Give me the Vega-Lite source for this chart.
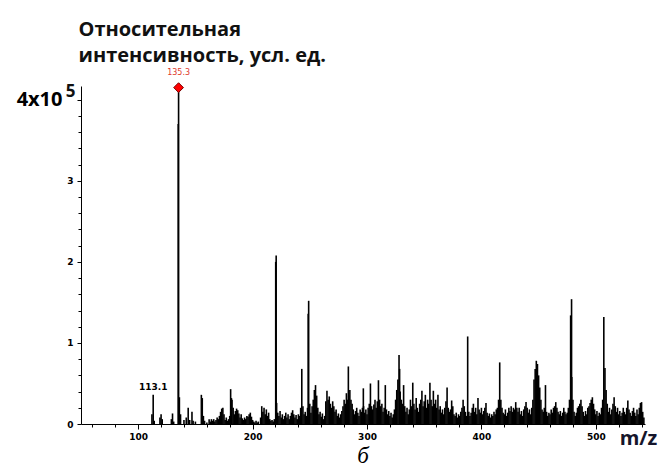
{
  "$schema": "https://vega.github.io/schema/vega-lite/v6.json",
  "width": 564,
  "height": 338,
  "autosize": {"type": "none"},
  "padding": {"left": 81, "top": 86, "right": 15, "bottom": 47},
  "background": "white",
  "config": {
    "view": {"stroke": null},
    "axis": {"grid": false, "domainColor": "#000", "tickColor": "#000", "labelColor": "#000", "labelFont": "DejaVu Sans", "labelFontWeight": "bold", "labelFontSize": 9, "labelOverlap": false}
  },
  "title": {"text": "б", "orient": "bottom", "anchor": "middle", "font": "Liberation Serif", "fontStyle": "italic", "fontWeight": "normal", "fontSize": 23, "color": "#000", "offset": -3},
  "resolve": {"axis": {"x": "independent", "y": "independent"}},
  "datasets": {
    "spec": [
      {"m":112,"i":0.12},{"m":113.1,"i":0.36},{"m":114,"i":0.04},{"m":119,"i":0.08},{"m":120,"i":0.12},{"m":121,"i":0.06},
      {"m":129,"i":0.06},{"m":130,"i":0.13},{"m":131,"i":0.03},{"m":135,"i":3.7},{"m":135.3,"i":4.15},{"m":136,"i":0.33},{"m":137,"i":0.12},
      {"m":140,"i":0.05},{"m":142,"i":0.08},{"m":143.7,"i":0.2},{"m":145,"i":0.05},{"m":147,"i":0.15},{"m":148,"i":0.04},{"m":150,"i":0.03},
      {"m":155.2,"i":0.36},{"m":156,"i":0.32},{"m":157,"i":0.1},{"m":158,"i":0.04},{"m":160,"i":0.02},
      {"m":162,"i":0.06},{"m":163,"i":0.03},{"m":164,"i":0.06},{"m":165,"i":0.04},{"m":166,"i":0.06},{"m":167,"i":0.03},{"m":168,"i":0.05},{"m":169,"i":0.08},{"m":170,"i":0.06},
      {"m":171,"i":0.1},{"m":172,"i":0.15},{"m":173,"i":0.19},{"m":174,"i":0.2},{"m":175,"i":0.12},{"m":176,"i":0.05},{"m":177,"i":0.08},{"m":178,"i":0.04},{"m":179,"i":0.06},{"m":180,"i":0.1},
      {"m":180.8,"i":0.43},{"m":181.5,"i":0.32},{"m":182,"i":0.3},{"m":183,"i":0.2},{"m":184,"i":0.12},{"m":185,"i":0.16},{"m":186,"i":0.19},{"m":187,"i":0.17},{"m":188,"i":0.13},{"m":189,"i":0.08},
      {"m":190,"i":0.12},{"m":191,"i":0.07},{"m":192,"i":0.05},{"m":193,"i":0.08},{"m":194,"i":0.06},{"m":195,"i":0.1},{"m":196,"i":0.09},{"m":197,"i":0.12},{"m":198,"i":0.14},{"m":199,"i":0.09},
      {"m":200,"i":0.05},{"m":201,"i":0.03},{"m":202,"i":0.02},{"m":203,"i":0.04},{"m":204,"i":0.02},{"m":205,"i":0.03},{"m":207,"i":0.08},{"m":208,"i":0.22},{"m":209,"i":0.15},
      {"m":210,"i":0.2},{"m":211,"i":0.12},{"m":212,"i":0.18},{"m":213,"i":0.1},{"m":214,"i":0.14},{"m":215,"i":0.06},{"m":216,"i":0.04},{"m":217,"i":0.05},{"m":218,"i":0.03},{"m":219,"i":0.06},
      {"m":220.2,"i":2.0},{"m":220.6,"i":2.08},{"m":221,"i":0.26},{"m":222,"i":0.14},{"m":223,"i":0.1},{"m":224,"i":0.16},{"m":225,"i":0.08},{"m":226,"i":0.12},{"m":227,"i":0.06},{"m":228,"i":0.1},{"m":229,"i":0.14},
      {"m":230,"i":0.08},{"m":231,"i":0.12},{"m":232,"i":0.06},{"m":233,"i":0.1},{"m":234,"i":0.14},{"m":235,"i":0.17},{"m":236,"i":0.12},{"m":237,"i":0.08},{"m":238,"i":0.11},{"m":239,"i":0.06},
      {"m":240,"i":0.12},{"m":241,"i":0.1},{"m":242,"i":0.2},{"m":243,"i":0.68},{"m":244,"i":0.22},{"m":245,"i":0.12},{"m":246,"i":0.15},{"m":247,"i":0.1},{"m":248,"i":0.2},{"m":248.6,"i":1.36},{"m":249,"i":1.52},
      {"m":250,"i":0.25},{"m":251,"i":0.14},{"m":252,"i":0.22},{"m":253,"i":0.3},{"m":254,"i":0.42},{"m":255,"i":0.48},{"m":256,"i":0.35},{"m":257,"i":0.2},{"m":258,"i":0.12},{"m":259,"i":0.15},
      {"m":260,"i":0.09},{"m":261,"i":0.13},{"m":262,"i":0.06},{"m":263,"i":0.1},{"m":264,"i":0.28},{"m":265,"i":0.41},{"m":266,"i":0.3},{"m":267,"i":0.34},{"m":268,"i":0.25},{"m":269,"i":0.2},
      {"m":270,"i":0.28},{"m":271,"i":0.22},{"m":272,"i":0.15},{"m":273,"i":0.18},{"m":274,"i":0.1},{"m":275,"i":0.13},{"m":276,"i":0.08},{"m":277,"i":0.12},{"m":278,"i":0.16},{"m":279,"i":0.22},
      {"m":280,"i":0.3},{"m":281,"i":0.25},{"m":282,"i":0.38},{"m":283,"i":0.3},{"m":283.7,"i":0.71},{"m":284,"i":0.35},{"m":285,"i":0.42},{"m":286,"i":0.3},{"m":287,"i":0.25},{"m":288,"i":0.18},{"m":289,"i":0.12},
      {"m":290,"i":0.16},{"m":291,"i":0.2},{"m":292,"i":0.14},{"m":293,"i":0.1},{"m":294,"i":0.18},{"m":295,"i":0.15},{"m":296,"i":0.2},{"m":296.8,"i":0.44},{"m":297,"i":0.22},{"m":298,"i":0.14},{"m":299,"i":0.18},
      {"m":300,"i":0.12},{"m":301,"i":0.2},{"m":302,"i":0.25},{"m":303,"i":0.5},{"m":304,"i":0.22},{"m":305,"i":0.18},{"m":306,"i":0.24},{"m":307,"i":0.3},{"m":308,"i":0.2},{"m":309,"i":0.28},
      {"m":310,"i":0.54},{"m":311,"i":0.3},{"m":312,"i":0.22},{"m":313,"i":0.25},{"m":314,"i":0.15},{"m":315,"i":0.2},{"m":316,"i":0.48},{"m":317,"i":0.18},{"m":318,"i":0.12},{"m":319,"i":0.16},
      {"m":320,"i":0.1},{"m":321,"i":0.14},{"m":322,"i":0.08},{"m":323,"i":0.12},{"m":324,"i":0.18},{"m":325,"i":0.3},{"m":326,"i":0.42},{"m":327,"i":0.55},{"m":328,"i":0.85},{"m":328.5,"i":0.68},{"m":329,"i":0.4},
      {"m":330,"i":0.3},{"m":331,"i":0.25},{"m":332,"i":0.48},{"m":333,"i":0.22},{"m":334,"i":0.15},{"m":335,"i":0.2},{"m":336,"i":0.12},{"m":337,"i":0.18},{"m":338,"i":0.3},{"m":339,"i":0.22},
      {"m":340,"i":0.51},{"m":341,"i":0.25},{"m":342,"i":0.18},{"m":343,"i":0.32},{"m":344,"i":0.2},{"m":345,"i":0.15},{"m":346,"i":0.25},{"m":347,"i":0.3},{"m":348,"i":0.41},{"m":349,"i":0.22},
      {"m":350,"i":0.28},{"m":351,"i":0.36},{"m":352,"i":0.2},{"m":353,"i":0.3},{"m":354,"i":0.25},{"m":355,"i":0.51},{"m":356,"i":0.3},{"m":357,"i":0.22},{"m":358,"i":0.41},{"m":359,"i":0.25},
      {"m":360,"i":0.3},{"m":361,"i":0.2},{"m":362,"i":0.36},{"m":363,"i":0.18},{"m":364,"i":0.22},{"m":365,"i":0.14},{"m":366,"i":0.18},{"m":367,"i":0.12},{"m":368,"i":0.2},{"m":369,"i":0.28},
      {"m":370,"i":0.45},{"m":371,"i":0.2},{"m":372,"i":0.15},{"m":373,"i":0.18},{"m":374,"i":0.29},{"m":375,"i":0.22},{"m":376,"i":0.12},{"m":377,"i":0.1},{"m":378,"i":0.14},{"m":379,"i":0.08},
      {"m":380,"i":0.12},{"m":381,"i":0.1},{"m":382,"i":0.15},{"m":383,"i":0.2},{"m":384,"i":0.3},{"m":385,"i":0.22},{"m":386,"i":0.15},{"m":387,"i":0.1},{"m":388,"i":1.08},{"m":389,"i":0.15},
      {"m":390,"i":0.1},{"m":391,"i":0.14},{"m":392,"i":0.2},{"m":393,"i":0.25},{"m":394,"i":0.15},{"m":395,"i":0.2},{"m":396,"i":0.12},{"m":397,"i":0.32},{"m":398,"i":0.18},{"m":399,"i":0.14},
      {"m":400,"i":0.2},{"m":401,"i":0.12},{"m":402,"i":0.16},{"m":403,"i":0.2},{"m":404,"i":0.26},{"m":405,"i":0.14},{"m":406,"i":0.1},{"m":407,"i":0.13},{"m":408,"i":0.08},{"m":409,"i":0.12},
      {"m":410,"i":0.1},{"m":411,"i":0.15},{"m":412,"i":0.12},{"m":413,"i":0.18},{"m":414,"i":0.2},{"m":415,"i":0.3},{"m":416,"i":0.76},{"m":417,"i":0.3},{"m":418,"i":0.2},{"m":419,"i":0.14},
      {"m":420,"i":0.12},{"m":421,"i":0.18},{"m":422,"i":0.1},{"m":423,"i":0.14},{"m":424,"i":0.2},{"m":425,"i":0.16},{"m":426,"i":0.22},{"m":427,"i":0.15},{"m":428,"i":0.2},{"m":429,"i":0.18},
      {"m":430,"i":0.27},{"m":431,"i":0.2},{"m":432,"i":0.15},{"m":433,"i":0.2},{"m":434,"i":0.12},{"m":435,"i":0.16},{"m":436,"i":0.1},{"m":437,"i":0.18},{"m":438,"i":0.22},{"m":439,"i":0.27},
      {"m":440,"i":0.2},{"m":441,"i":0.14},{"m":442,"i":0.18},{"m":443,"i":0.12},{"m":444,"i":0.2},{"m":445,"i":0.3},{"m":446,"i":0.55},{"m":447,"i":0.68},{"m":448,"i":0.78},{"m":449,"i":0.74},
      {"m":450,"i":0.6},{"m":451,"i":0.45},{"m":452,"i":0.3},{"m":453,"i":0.18},{"m":454,"i":0.15},{"m":455,"i":0.2},{"m":456,"i":0.48},{"m":457,"i":0.15},{"m":458,"i":0.1},{"m":459,"i":0.14},
      {"m":460,"i":0.12},{"m":461,"i":0.18},{"m":462,"i":0.14},{"m":463,"i":0.2},{"m":464,"i":0.22},{"m":465,"i":0.27},{"m":466,"i":0.2},{"m":467,"i":0.15},{"m":468,"i":0.12},{"m":469,"i":0.16},
      {"m":470,"i":0.1},{"m":471,"i":0.14},{"m":472,"i":0.2},{"m":473,"i":0.15},{"m":474,"i":0.12},{"m":475,"i":0.14},{"m":476,"i":0.2},{"m":477,"i":0.3},{"m":478,"i":1.34},{"m":478.8,"i":1.54},{"m":479,"i":0.58},
      {"m":480,"i":0.3},{"m":481,"i":0.15},{"m":482,"i":0.1},{"m":483,"i":0.14},{"m":484,"i":0.2},{"m":485,"i":0.22},{"m":486,"i":0.25},{"m":487,"i":0.3},{"m":488,"i":0.22},{"m":489,"i":0.15},
      {"m":490,"i":0.1},{"m":491,"i":0.16},{"m":492,"i":0.12},{"m":493,"i":0.2},{"m":494,"i":0.22},{"m":495,"i":0.26},{"m":496,"i":0.3},{"m":497,"i":0.33},{"m":498,"i":0.25},{"m":499,"i":0.18},
      {"m":500,"i":0.12},{"m":501,"i":0.16},{"m":502,"i":0.1},{"m":503,"i":0.14},{"m":504,"i":0.12},{"m":505,"i":0.2},{"m":506,"i":0.3},{"m":507,"i":1.32},{"m":508,"i":0.69},{"m":509,"i":0.42},
      {"m":510,"i":0.25},{"m":511,"i":0.15},{"m":512,"i":0.2},{"m":513,"i":0.12},{"m":514,"i":0.18},{"m":515,"i":0.25},{"m":516,"i":0.33},{"m":517,"i":0.22},{"m":518,"i":0.15},{"m":519,"i":0.2},
      {"m":520,"i":0.12},{"m":521,"i":0.16},{"m":522,"i":0.1},{"m":523,"i":0.14},{"m":524,"i":0.2},{"m":525,"i":0.15},{"m":526,"i":0.12},{"m":527,"i":0.2},{"m":528,"i":0.29},{"m":529,"i":0.18},
      {"m":530,"i":0.14},{"m":531,"i":0.1},{"m":532,"i":0.16},{"m":533,"i":0.2},{"m":534,"i":0.14},{"m":535,"i":0.1},{"m":536,"i":0.18},{"m":537,"i":0.12},{"m":538,"i":0.2},{"m":539,"i":0.26},
      {"m":540,"i":0.27},{"m":541,"i":0.15},{"m":542,"i":0.08}
    ],
    "peaks": [
      {"m":135.3,"i":4.15,"t":"135.3","kind":"base"},
      {"m":113.1,"i":0.36,"t":"113.1","kind":"minor"}
    ],
    "exp": [{"m":50,"i":4,"t":"5"}]
  },
  "layer": [
    {
      "data": {"name": "spec"},
      "mark": {"type": "rule", "strokeWidth": 1.6, "color": "#000"},
      "encoding": {
        "x": {
          "field": "m", "type": "quantitative",
          "scale": {"domain": [50, 543], "nice": false, "zero": false},
          "axis": {
            "orient": "bottom",
            "values": [100,200,300,400,500],
            "format": "d",
            "tickSize": 5,
            "labelPadding": 3,
            "labelFlush": false,
            "title": "m/z",
            "titleFont": "Open Sans", "titleFontSize": 20, "titleFontWeight": "bold", "titleColor": "#15152b",
            "titleAlign": "center", "titleBaseline": "alphabetic",
            "titleX": 557, "titleY": 20
          }
        },
        "y": {
          "field": "i", "type": "quantitative",
          "scale": {"domain": [0, 4.17], "nice": false},
          "axis": {
            "orient": "left",
            "values": [0,1,2,3,4],
            "format": "d",
            "labelExpr": "datum.value == 4 ? '4x10' : datum.label",
            "labelFont": {"condition": {"test": "datum.value == 4", "value": "Open Sans"}, "value": "DejaVu Sans"},
            "labelFontSize": {"condition": {"test": "datum.value == 4", "value": 20}, "value": 9},
            "labelPadding": {"condition": {"test": "datum.value == 4", "value": 15}, "value": 4},
            "tickSize": 4,
            "labelFlush": false,
            "title": ["Относительная", "интенсивность, усл. ед."],
            "titleFont": "Open Sans", "titleFontSize": 20, "titleFontWeight": "bold", "titleColor": "#111",
            "titleAngle": 0, "titleAlign": "left", "titleBaseline": "alphabetic",
            "titleLineHeight": 26, "titleX": -3, "titleY": -51
          }
        },
        "y2": {"datum": 0}
      }
    },
    {
      "data": {"name": "exp"},
      "mark": {"type": "point", "opacity": 0},
      "encoding": {
        "x": {"field": "m", "type": "quantitative", "axis": {"orient": "bottom", "values": [60,80,120,140,160,180,220,240,260,280,320,340,360,380,420,440,460,480,520,540], "labels": false, "domain": false, "tickSize": 3, "title": null}},
        "y": {"field": "i", "type": "quantitative", "axis": {"orient": "left", "values": [0.2,0.4,0.6,0.8,1.2,1.4,1.6,1.8,2.2,2.4,2.6,2.8,3.2,3.4,3.6,3.8], "labels": false, "domain": false, "tickSize": 3, "title": null}}
      }
    },
    {
      "data": {"name": "peaks"},
      "transform": [{"filter": "datum.kind == 'base'"}],
      "mark": {"type": "point", "shape": "diamond", "size": 95, "filled": true, "fill": "#ff0000", "stroke": "#7a0000", "strokeWidth": 1, "opacity": 1},
      "encoding": {"x": {"field": "m", "type": "quantitative", "axis": null}, "y": {"field": "i", "type": "quantitative", "axis": null}}
    },
    {
      "data": {"name": "peaks"},
      "transform": [{"filter": "datum.kind == 'base'"}],
      "mark": {"type": "text", "font": "DejaVu Sans", "fontSize": 8, "color": "#e0392b", "dy": -15, "baseline": "middle", "align": "center"},
      "encoding": {"x": {"field": "m", "type": "quantitative", "axis": null}, "y": {"field": "i", "type": "quantitative", "axis": null}, "text": {"field": "t"}}
    },
    {
      "data": {"name": "peaks"},
      "transform": [{"filter": "datum.kind == 'minor'"}],
      "mark": {"type": "text", "font": "DejaVu Sans", "fontSize": 9, "fontWeight": "bold", "color": "#000", "dy": -8, "baseline": "middle", "align": "center"},
      "encoding": {"x": {"field": "m", "type": "quantitative", "axis": null}, "y": {"field": "i", "type": "quantitative", "axis": null}, "text": {"field": "t"}}
    },
    {
      "data": {"name": "exp"},
      "mark": {"type": "text", "font": "Open Sans", "fontSize": 17, "fontWeight": "bold", "color": "#111", "dx": -10.5, "dy": -8, "baseline": "middle", "align": "center"},
      "encoding": {"x": {"field": "m", "type": "quantitative", "axis": null}, "y": {"field": "i", "type": "quantitative", "axis": null}, "text": {"field": "t"}}
    }
  ]
}
